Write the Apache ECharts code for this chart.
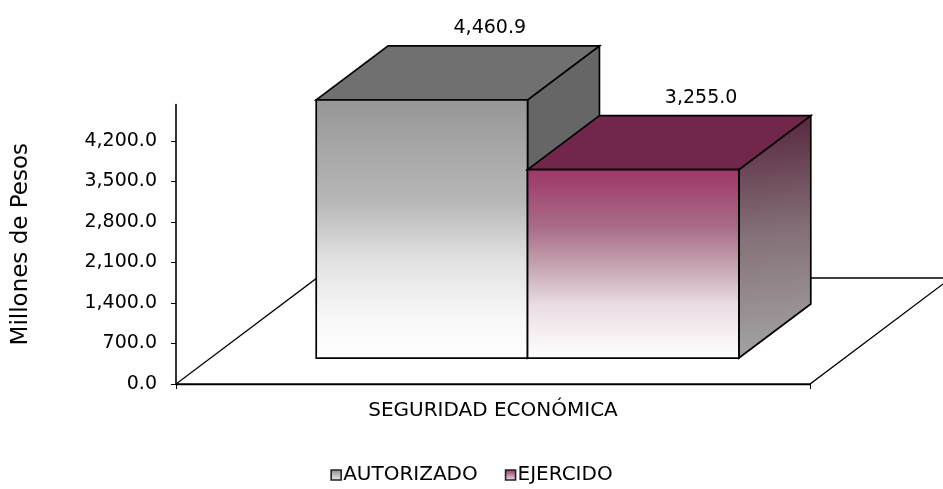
<!DOCTYPE html>
<html><head><meta charset="utf-8">
<script src="https://cdn.jsdelivr.net/npm/echarts@6/dist/echarts.min.js"></script>
<style>html,body{margin:0;padding:0;background:#fff}#c{width:943px;height:489px}</style>
</head><body><div id="c"></div>
<script>
// ---- data ----
const categories = ['SEGURIDAD ECONÓMICA'];
const seriesNames = ['AUTORIZADO', 'EJERCIDO'];
const autorizado = [4460.9];
const ejercido = [3255.0];
const yMin = 0, yMax = 4830, yInterval = 700;

// ---- 3D projection (pixel offsets for depth) ----
const DEPTH = { x: 141, y: -106 };
const FRONT = 0.245, BACK = 0.755;
const FONT = 'DejaVu Sans';

const G = echarts.graphic;
const fmt = v => v.toLocaleString('en-US', { minimumFractionDigits: 1, maximumFractionDigits: 1 });

const styles = [
  {
    front: new G.LinearGradient(0, 0, 0, 1, [
      { offset: 0, color: '#969696' }, { offset: 0.4, color: '#b8b8b8' },
      { offset: 0.62, color: '#e2e2e2' }, { offset: 0.85, color: '#f8f8f8' }, { offset: 1, color: '#ffffff' }]),
    top: '#707070',
    side: '#666666',
    legend: new G.LinearGradient(0, 0, 0, 1, [{ offset: 0, color: '#8a8a8a' }, { offset: 1, color: '#f0f0f0' }])
  },
  {
    front: new G.LinearGradient(0, 0, 0, 1, [
      { offset: 0, color: '#9e3667' }, { offset: 0.3, color: '#a86b87' },
      { offset: 0.52, color: '#c7a6b4' }, { offset: 0.72, color: '#eadde3' }, { offset: 1, color: '#ffffff' }]),
    top: '#72264a',
    side: new G.LinearGradient(0, 0, 0.35, 1, [
      { offset: 0, color: '#55233c' }, { offset: 0.5, color: '#857179' }, { offset: 1, color: '#a4a4a4' }]),
    legend: new G.LinearGradient(0, 0, 0, 1, [{ offset: 0, color: '#8e2c5a' }, { offset: 1, color: '#f2e6ec' }])
  }
];

function renderFloor(params, api) {
  const base = api.coord([api.value(0), 0]);
  const band = api.size([1, 0])[0];
  const L = base[0] - band / 2, R = base[0] + band / 2, y = base[1];
  return {
    type: 'polygon',
    shape: { points: [[L, y], [R, y], [R + DEPTH.x, y + DEPTH.y], [L + DEPTH.x, y + DEPTH.y]] },
    style: { fill: '#ffffff', stroke: '#000', lineWidth: 1.3 }
  };
}

function makeRenderBar(si) {
  return function (params, api) {
    const cat = api.value(0), val = api.value(1);
    const base = api.coord([cat, 0]);
    const top = api.coord([cat, val]);
    const band = api.size([1, 0])[0];
    const w = band / 3;
    const fx = DEPTH.x * FRONT, fy = DEPTH.y * FRONT;
    const bx = DEPTH.x * (BACK - FRONT), by = DEPTH.y * (BACK - FRONT);
    const x0 = base[0] - w + si * w + fx;
    const x1 = x0 + w;
    const yb = base[1] + fy, yt = top[1] + fy;
    const st = styles[si];
    const line = { stroke: '#000', lineWidth: 1.7, lineJoin: 'miter' };
    return {
      type: 'group',
      children: [
        { type: 'polygon', shape: { points: [[x1, yt], [x1, yb], [x1 + bx, yb + by], [x1 + bx, yt + by]] },
          style: Object.assign({ fill: st.side }, line) },
        { type: 'polygon', shape: { points: [[x0, yt], [x1, yt], [x1 + bx, yt + by], [x0 + bx, yt + by]] },
          style: Object.assign({ fill: st.top }, line) },
        { type: 'rect', shape: { x: x0, y: yt, width: w, height: yb - yt },
          style: Object.assign({ fill: st.front }, line) },
        { type: 'text', x: x0 + w / 2 + bx - 4, y: yt + by - 8,
          style: { text: fmt(val), fill: '#000', font: '19px "' + FONT + '"', align: 'center', verticalAlign: 'bottom' } }
      ]
    };
  };
}

const chart = echarts.init(document.getElementById('c'), null, { renderer: 'canvas' });
chart.setOption({
  animation: false,
  backgroundColor: '#ffffff',
  textStyle: { fontFamily: FONT, color: '#000' },
  grid: { left: 176, right: 133, top: 104.5, bottom: 105, containLabel: false },
  legend: {
    bottom: -1, left: 'center', itemWidth: 10, itemHeight: 10, itemGap: 27,
    textStyle: { fontSize: 20, color: '#000', fontFamily: FONT, padding: [0, 0, 0, -3] },
    data: seriesNames.map((n, i) => ({ name: n, icon: 'rect', itemStyle: { color: styles[i].legend, borderColor: '#222', borderWidth: 1.6 } }))
  },
  xAxis: {
    type: 'category', data: categories, boundaryGap: true,
    axisLine: { show: true, lineStyle: { color: '#000', width: 1.3 } },
    axisTick: { show: true, length: 5, lineStyle: { color: '#000' } },
    axisLabel: { fontSize: 20, color: '#000', margin: 17, fontFamily: FONT }
  },
  yAxis: {
    type: 'value', min: yMin, max: yMax, interval: yInterval,
    name: 'Millones de Pesos', nameLocation: 'middle', nameRotate: 90, nameGap: 143,
    nameTextStyle: { fontSize: 23, color: '#000', fontFamily: FONT },
    axisLine: { show: true, lineStyle: { color: '#000', width: 1.6 } },
    axisTick: { show: true, length: 5, lineStyle: { color: '#000' } },
    axisLabel: { fontSize: 19, color: '#000', margin: 19, showMaxLabel: false, formatter: fmt, fontFamily: FONT },
    splitLine: { show: false }
  },
  series: [
    { type: 'custom', name: 'floor', clip: false, z: 1, renderItem: renderFloor, data: categories.map((c, i) => [i, 0]), silent: true },
    { type: 'custom', name: seriesNames[0], clip: false, z: 2, renderItem: makeRenderBar(0), data: autorizado.map((v, i) => [i, v]),
      itemStyle: { color: styles[0].legend } },
    { type: 'custom', name: seriesNames[1], clip: false, z: 3, renderItem: makeRenderBar(1), data: ejercido.map((v, i) => [i, v]),
      itemStyle: { color: styles[1].legend } }
  ]
});
</script>
</body></html>
